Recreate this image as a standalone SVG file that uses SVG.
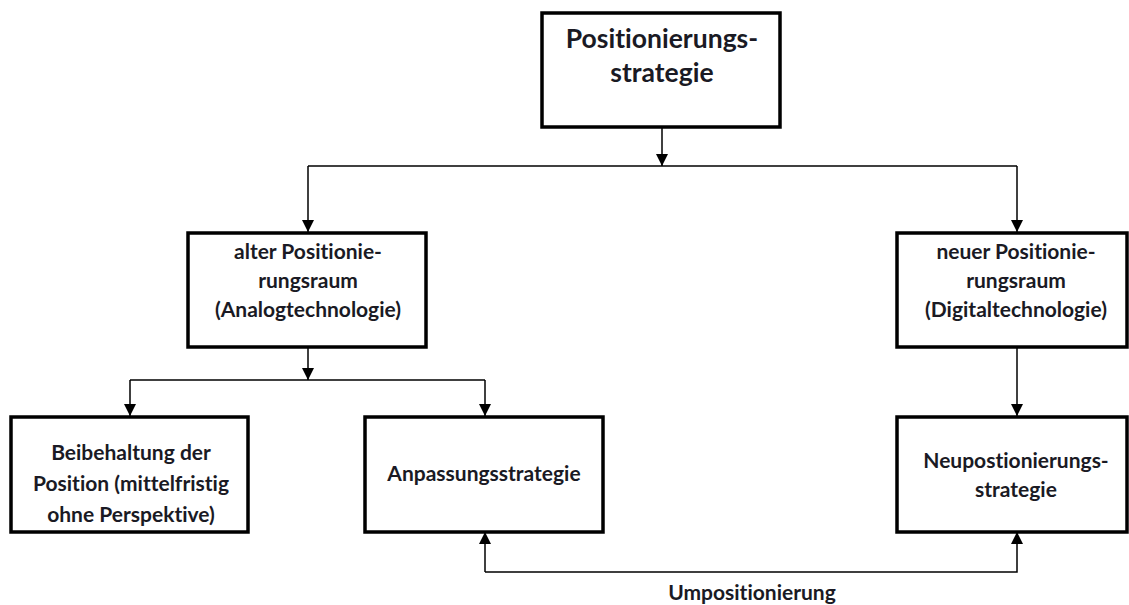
<svg xmlns="http://www.w3.org/2000/svg" width="1129" height="605" viewBox="0 0 1129 605">
<style>
.box{fill:#fff;stroke:#000;stroke-width:3.5}
.t{font-family:Lato,"Open Sans",sans-serif;font-weight:bold;font-size:21px;fill:#1a1a24;text-anchor:middle;font-variant-ligatures:none;font-feature-settings:"liga" 0}
.big{font-size:26.5px}
.c{fill:none;stroke:#000;stroke-width:1.5}
</style>
<defs>
<marker id="ah" viewBox="0 0 12 12" refX="12" refY="6" markerWidth="12" markerHeight="12" markerUnits="userSpaceOnUse" orient="auto">
<path d="M0,0 L12,6 L0,12 z" fill="#000"/>
</marker>
</defs>
<rect width="1129" height="605" fill="#fff"/>
<g id="connectors">
<path class="c" d="M662,127 V166" marker-end="url(#ah)"/>
<path class="c" d="M308,166 H1017"/>
<path class="c" d="M308,166 V232" marker-end="url(#ah)"/>
<path class="c" d="M1017,166 V232" marker-end="url(#ah)"/>
<path class="c" d="M308,347 V380" marker-end="url(#ah)"/>
<path class="c" d="M130,380 H485"/>
<path class="c" d="M130,380 V416" marker-end="url(#ah)"/>
<path class="c" d="M485,380 V416" marker-end="url(#ah)"/>
<path class="c" d="M1017,347 V416" marker-end="url(#ah)"/>
<path class="c" d="M485,572 V532" marker-end="url(#ah)"/>
<path class="c" d="M485,572 H1017 V532" marker-end="url(#ah)"/>
<text class="t" x="752" y="600">Umpositionierung</text>
</g>
<g id="n-top">
<rect class="box" x="542" y="13" width="238" height="114"/>
<text class="t big" x="662" y="48">Positionierungs-</text>
<text class="t big" x="662" y="82">strategie</text>
</g>
<g id="n-alter">
<rect class="box" x="188" y="233" width="238" height="114"/>
<text class="t" x="308" y="259">alter Positionie-</text>
<text class="t" x="308" y="288">rungsraum</text>
<text class="t" x="308" y="317">(Analogtechnologie)</text>
</g>
<g id="n-neuer">
<rect class="box" x="897" y="233" width="230" height="114"/>
<text class="t" x="1016" y="259">neuer Positionie-</text>
<text class="t" x="1016" y="288">rungsraum</text>
<text class="t" x="1016" y="317">(Digitaltechnologie)</text>
</g>
<g id="n-beib">
<rect class="box" x="11" y="417" width="237" height="115"/>
<text class="t" x="131" y="460">Beibehaltung der</text>
<text class="t" x="131" y="491">Position (mittelfristig</text>
<text class="t" x="131" y="522">ohne Perspektive)</text>
</g>
<g id="n-anp">
<rect class="box" x="365" y="417" width="238" height="115"/>
<text class="t" x="484" y="481">Anpassungsstrategie</text>
</g>
<g id="n-neupos">
<rect class="box" x="897" y="417" width="230" height="115"/>
<text class="t" x="1016" y="468">Neupostionierungs-</text>
<text class="t" x="1016" y="497">strategie</text>
</g>
</svg>
